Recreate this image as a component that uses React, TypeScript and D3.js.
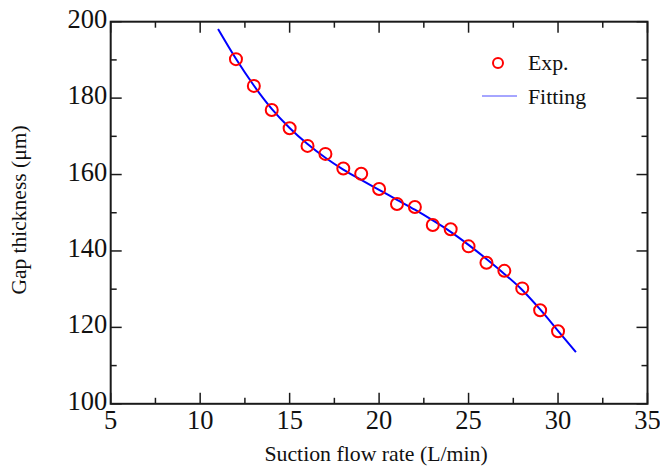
import React from "react";
import * as d3 from "d3";

const expX = [12, 13, 14, 15, 16, 17, 18, 19, 20, 21, 22, 23, 24, 25, 26, 27, 28, 29, 30];
const expY = [190.2, 183.2, 176.9, 172.1, 167.5, 165.4, 161.6, 160.2, 156.2, 152.3, 151.5, 146.8, 145.7, 141.2, 136.9, 134.8, 130.2, 124.5, 119.0];
const fitX = [11, 12, 13, 14, 15, 16, 17, 18, 19, 20, 21, 22, 23, 24, 25, 26, 27, 28, 29, 30, 31];
const fitY = [198.1, 190.3, 183.3, 177.2, 172.2, 168.0, 164.4, 161.3, 158.6, 156.0, 153.4, 150.8, 148.0, 145.0, 141.6, 137.9, 134.0, 129.8, 124.7, 119.1, 113.5];
const xMajor = [5, 10, 15, 20, 25, 30, 35];
const xMinor = [7.5, 12.5, 17.5, 22.5, 27.5, 32.5];
const yMajor = [100, 120, 140, 160, 180, 200];
const yMinor = [110, 130, 150, 170, 190];
const xTitle = "Suction flow rate (L/min)";
const yTitle = "Gap thickness (\u03bcm)";
const legendLabels = ["Exp.", "Fitting"];

const W = 660, H = 468;
const L = 110.7, R = 647.5, T = 21.7, B = 403.8;
const FONT = "'Liberation Serif', 'Times New Roman', serif";

export default function App() {
  const x = d3.scaleLinear().domain([5, 35]).range([L, R]);
  const y = d3.scaleLinear().domain([100, 200]).range([B, T]);
  const line = d3.line<number>().x((_, i) => x(fitX[i])).y((d) => y(d)).curve(d3.curveMonotoneX);
  const MAJ = 11, MIN = 6;
  const tick = { stroke: "#1a1a1a", strokeWidth: 1.5 };
  return (
    <svg width={W} height={H} style={{ position: "absolute", left: 0, top: 0, background: "#fff" }} fontFamily={FONT}>
      <rect x={0} y={0} width={W} height={H} fill="#fff" />
      {/* ticks */}
      {xMajor.map((v) => (
        <g key={"xm" + v}>
          <line x1={x(v)} x2={x(v)} y1={B} y2={B - MAJ} {...tick} />
          <line x1={x(v)} x2={x(v)} y1={T} y2={T + MAJ} {...tick} />
        </g>
      ))}
      {xMinor.map((v) => (
        <g key={"xn" + v}>
          <line x1={x(v)} x2={x(v)} y1={B} y2={B - MIN} {...tick} />
          <line x1={x(v)} x2={x(v)} y1={T} y2={T + MIN} {...tick} />
        </g>
      ))}
      {yMajor.map((v) => (
        <g key={"ym" + v}>
          <line x1={L} x2={L + MAJ} y1={y(v)} y2={y(v)} {...tick} />
          <line x1={R} x2={R - MAJ} y1={y(v)} y2={y(v)} {...tick} />
        </g>
      ))}
      {yMinor.map((v) => (
        <g key={"yn" + v}>
          <line x1={L} x2={L + MIN} y1={y(v)} y2={y(v)} {...tick} />
          <line x1={R} x2={R - MIN} y1={y(v)} y2={y(v)} {...tick} />
        </g>
      ))}
      <rect x={L} y={T} width={R - L} height={B - T} fill="none" stroke="#1a1a1a" strokeWidth={2} />
      {/* tick labels */}
      {xMajor.map((v) => (
        <text key={"xl" + v} x={x(v)} y={B + 25} textAnchor="middle" fontSize={26.5} fill="#111">{v}</text>
      ))}
      {yMajor.map((v) => (
        <text key={"yl" + v} x={L - 3.5} y={y(v) + 6} textAnchor="end" fontSize={26.5} fill="#111">{v}</text>
      ))}
      {/* titles */}
      <text x={(L + R) / 2 - 3} y={461} textAnchor="middle" fontSize={21.8} fill="#111">{xTitle}</text>
      <text transform={`translate(25.5,${210}) rotate(-90)`} textAnchor="middle" fontSize={21.5} fill="#111">{yTitle}</text>
      {/* fit line */}
      <path d={line(fitY) || ""} fill="none" stroke="#0000ff" strokeWidth={2} />
      {/* exp points */}
      {expX.map((v, i) => (
        <circle key={"p" + v} cx={x(v)} cy={y(expY[i])} r={6} fill="none" stroke="#ff0000" strokeWidth={2} />
      ))}
      {/* legend */}
      <circle cx={498} cy={63} r={5} fill="none" stroke="#ff0000" strokeWidth={2} />
      <text x={528} y={70} fontSize={21.8} fill="#111">{legendLabels[0]}</text>
      <line x1={482} x2={517} y1={96} y2={96} stroke="#4d4dff" strokeWidth={1} />
      <text x={528} y={104} fontSize={21.8} fill="#111">{legendLabels[1]}</text>
    </svg>
  );
}
